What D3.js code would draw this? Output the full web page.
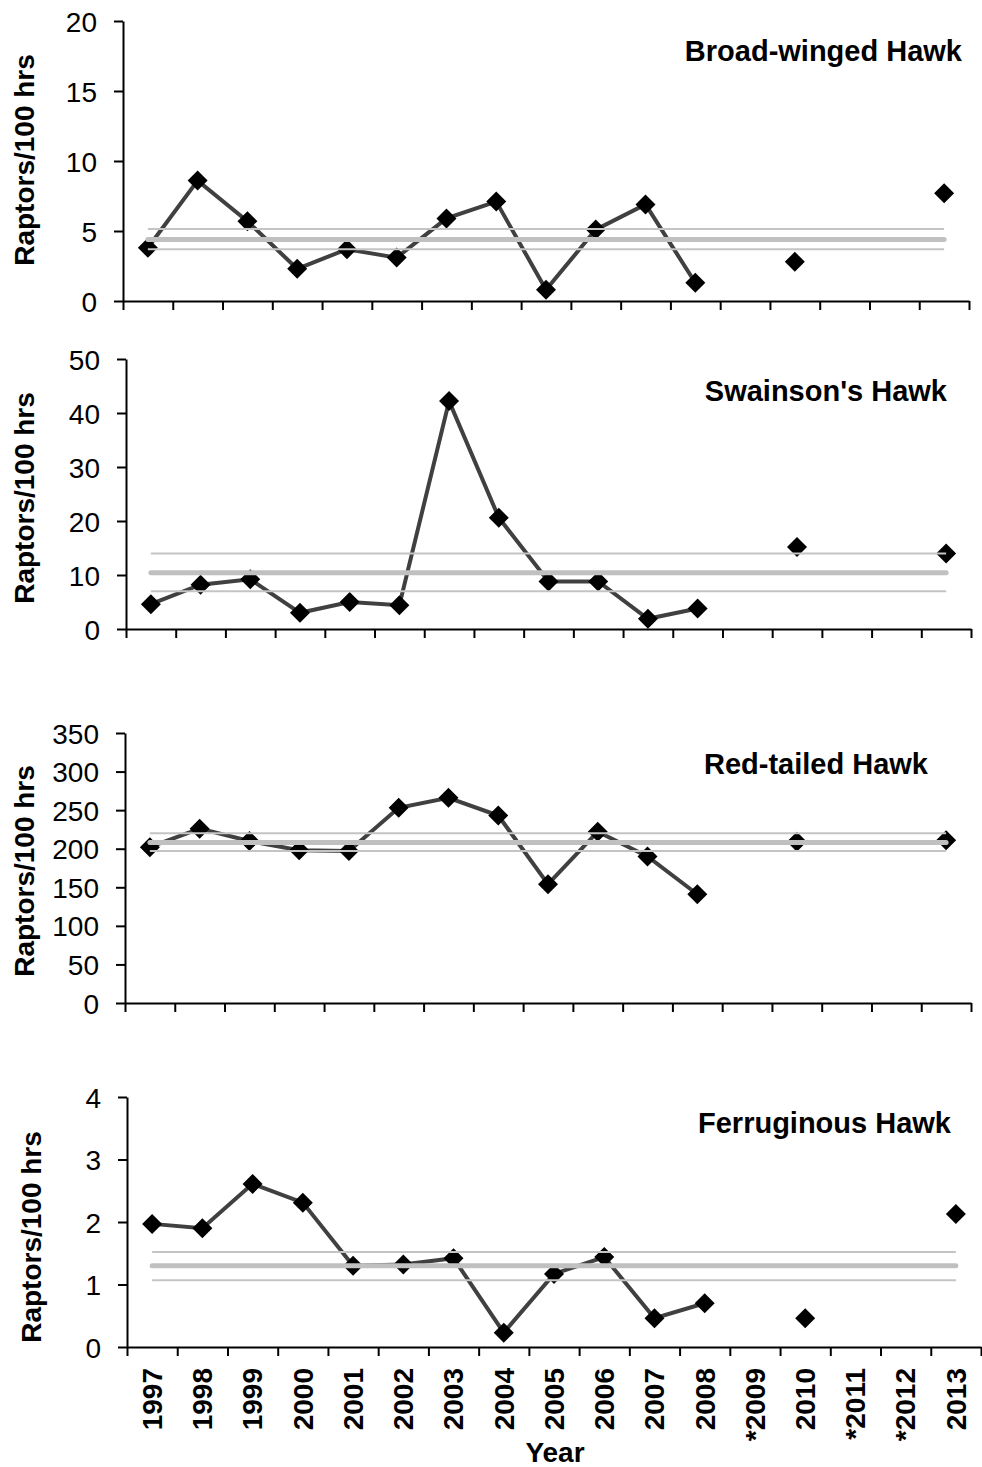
<!DOCTYPE html>
<html>
<head>
<meta charset="utf-8">
<script src="https://cdn.jsdelivr.net/npm/d3@7"></script>
<style>
  body { margin: 0; background: #fff; }
  text { font-family: 'Liberation Sans', Arial, sans-serif; fill: #000; }
</style>
</head>
<body>
<div id="visualization"></div>
<script>
const width = 982
const height = 1467

/* Categories */
const years = ['1997', '1998', '1999', '2000', '2001', '2002', '2003', '2004', '2005', '2006',
    '2007', '2008', '*2009', '2010', '*2011', '*2012', '2013']

/* Raptors per 100 hours, null = no count */
const broadWinged = [3.8, 8.6, 5.7, 2.3, 3.7, 3.1, 5.9, 7.1, 0.8, 5.1, 6.9, 1.3, null, 2.8, null, null, 7.7]
const swainsons = [4.6, 8.2, 9.2, 3.0, 5.0, 4.4, 42.2, 20.6, 8.8, 8.8, 1.9, 3.8, null, 15.2, null, null, 14.0]
const redTailed = [202, 226, 210, 198, 197, 253, 266, 243, 154, 222, 190, 141, null, 209, null, null, 211]
const ferruginous = [1.97, 1.9, 2.61, 2.31, 1.3, 1.32, 1.42, 0.23, 1.17, 1.44, 0.46, 0.7, null, 0.46, null, null, 2.13]

/* Long-term mean with lower / upper band: [mean, lower, upper] */
const broadWingedMean = [4.4, 3.7, 5.15]
const swainsonsMean = [10.4, 7.0, 14.0]
const redTailedMean = [208, 197, 220]
const ferruginousMean = [1.3, 1.07, 1.52]

/* Species names and y tick labels */
const species = ['Broad-winged Hawk', "Swainson's Hawk", 'Red-tailed Hawk', 'Ferruginous Hawk']
const yTicks = [
    [0, 5, 10, 15, 20],
    [0, 10, 20, 30, 40, 50],
    [0, 50, 100, 150, 200, 250, 300, 350],
    [0, 1, 2, 3, 4],
]

/* Panel boxes (layout only) */
const panels = [
    { left: 123, right: 969, top: 21, bottom: 301, titleX: 962, titleY: 61, labelX: 24, labelY: 160 },
    { left: 126, right: 971, top: 359, bottom: 629, titleX: 947, titleY: 401, labelX: 24, labelY: 498 },
    { left: 125, right: 971, top: 733, bottom: 1003, titleX: 928, titleY: 774, labelX: 24, labelY: 871 },
    { left: 127, right: 981, top: 1097, bottom: 1347, titleX: 951, titleY: 1133, labelX: 31, labelY: 1237 },
]

const series = [broadWinged, swainsons, redTailed, ferruginous]
const means = [broadWingedMean, swainsonsMean, redTailedMean, ferruginousMean]

const svg = d3.select('#visualization').append('svg').attr('width', width).attr('height', height)

const diamond = 'M0,-10L10,0L0,10L-10,0Z'

panels.forEach((p, k) => {
    const values = series[k]
    const ticks = yTicks[k]

    const x = d3.scaleBand().domain(years).range([p.left, p.right])
    const edge = d3.scaleLinear().domain([0, years.length]).range([p.left, p.right])
    const y = d3.scaleLinear().domain([0, d3.max(ticks)]).range([p.bottom, p.top])
    const cx = d => x(d) + x.bandwidth() / 2

    const g = svg.append('g').attr('class', 'panel')

    /* y axis */
    const yAxis = g.append('g')
        .attr('transform', `translate(${p.left},0)`)
        .call(d3.axisLeft(y).tickValues(ticks).tickFormat(d3.format('d'))
            .tickSize(9).tickSizeOuter(0).tickPadding(17))
    yAxis.selectAll('text')
        .attr('font-size', 28)
        .attr('font-family', 'Liberation Sans, Arial, sans-serif')
        .attr('dy', '0.36em')
    yAxis.selectAll('line, path').attr('stroke', '#000').attr('stroke-width', 2)

    /* x axis, ticks between categories */
    const xAxis = g.append('g')
        .attr('transform', `translate(0,${p.bottom})`)
        .call(d3.axisBottom(edge).tickValues(d3.range(years.length + 1)).tickFormat('').tickSize(9).tickSizeOuter(0))
    xAxis.selectAll('line, path').attr('stroke', '#000').attr('stroke-width', 2)

    /* data line */
    const rows = years.map((yr, i) => ({ year: yr, value: values[i] }))
    const line = d3.line()
        .defined(d => d.value != null)
        .x(d => cx(d.year))
        .y(d => y(d.value))
    g.append('path')
        .datum(rows)
        .attr('d', line)
        .attr('fill', 'none')
        .attr('stroke', '#404040')
        .attr('stroke-width', 4)

    g.selectAll('path.marker')
        .data(rows.filter(d => d.value != null))
        .join('path')
        .attr('class', 'marker')
        .attr('d', diamond)
        .attr('transform', d => `translate(${cx(d.year)},${y(d.value)})`)
        .attr('fill', '#000')

    /* mean and band lines, drawn over the series */
    const [mean, lo, hi] = means[k]
    const x0 = cx(years[0])
    const x1 = cx(years[years.length - 1])
    g.selectAll('line.band')
        .data([lo, hi])
        .join('line')
        .attr('class', 'band')
        .attr('x1', x0).attr('x2', x1)
        .attr('y1', d => y(d)).attr('y2', d => y(d))
        .attr('stroke', '#c4c4c4')
        .attr('stroke-width', 2)
    g.append('line')
        .attr('x1', x0).attr('x2', x1)
        .attr('y1', y(mean)).attr('y2', y(mean))
        .attr('stroke', '#c0c0c0')
        .attr('stroke-width', 5)
        .attr('stroke-linecap', 'round')

    /* species title */
    g.append('text')
        .attr('x', p.titleX)
        .attr('y', p.titleY)
        .attr('text-anchor', 'end')
        .attr('font-size', 29)
        .attr('font-weight', 'bold')
        .text(species[k])

    /* y label */
    g.append('text')
        .attr('transform', `translate(${p.labelX},${p.labelY}) rotate(-90)`)
        .attr('text-anchor', 'middle')
        .attr('dy', '0.35em')
        .attr('font-size', 28)
        .attr('font-weight', 'bold')
        .text('Raptors/100 hrs')

    /* year labels on the bottom panel only */
    if (k === panels.length - 1) {
        g.selectAll('text.year')
            .data(years)
            .join('text')
            .attr('class', 'year')
            .attr('transform', d => `translate(${cx(d)},${p.bottom + 21}) rotate(-90)`)
            .attr('text-anchor', 'end')
            .attr('dy', '0.35em')
            .attr('font-size', 28)
            .attr('font-weight', 'bold')
            .text(d => d)

        g.append('text')
            .attr('x', 555)
            .attr('y', 1462)
            .attr('text-anchor', 'middle')
            .attr('font-size', 28)
            .attr('font-weight', 'bold')
            .text('Year')
    }
})
</script>
</body>
</html>
